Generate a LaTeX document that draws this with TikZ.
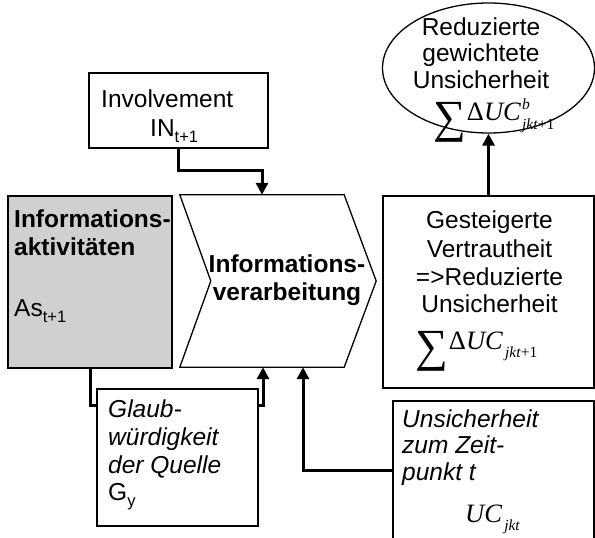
\documentclass[tikz,border=0pt]{standalone}
\usepackage{fontspec}
\setmainfont{Liberation Sans}
\newfontfamily\tms{Liberation Serif}
\usetikzlibrary{arrows.meta,shapes.geometric}

% formula pieces set in a Times-like face
\newcommand\sigmapart{\raisebox{-12pt}{\tms\fontsize{46}{46}\selectfont ∑}\kern1pt{\tms\fontsize{26.5}{26.5}\selectfont Δ\textit{UC}}}
\newcommand\lowidx[1]{\kern2pt\raisebox{-8pt}{\tms\fontsize{15.5}{15.5}\selectfont #1}}
\newcommand\subsans[1]{\raisebox{-6pt}{\fontsize{16.5}{16.5}\selectfont #1}}

\tikzset{
  box/.style={draw, line width=1.3pt, inner sep=0pt},
  lbl/.style={inner sep=0pt, font=\fontsize{24.5}{28}\selectfont},
  lblb/.style={lbl, font=\fontsize{24.5}{28}\selectfont\bfseries},
  lbli/.style={lbl, font=\fontsize{24.5}{28}\selectfont\itshape},
  conn/.style={line width=3pt},
  arr/.style={conn, -{Triangle[width=12pt,length=12pt]}}
}

\begin{document}
\begin{tikzpicture}[x=1pt,y=-1pt]
\clip (0,0) rectangle (595,538);

% boxes
\node[box, minimum width=179pt, minimum height=75pt] (inv) at (178.5,110.5) {};
\node[box, fill={rgb,255:red,208;green,208;blue,208}, minimum width=164pt, minimum height=172pt] (act) at (90,282) {};
\node[inner sep=0pt, minimum width=196pt, minimum height=172pt] (proc) at (278,281) {};
\draw[line width=1.3pt] (proc.north west) -- ([xshift=-32pt]proc.north east) -- (proc.east)
  -- ([xshift=-32pt]proc.south east) -- (proc.south west) -- ([xshift=31pt]proc.west) -- cycle;
\node[box, minimum width=161pt, minimum height=137pt] (glaub) at (177.5,457.5) {};
\node[box, minimum width=201pt, minimum height=159pt] (unc) at (493.5,480.5) {};
\node[box, minimum width=211pt, minimum height=192pt] (fam) at (488.5,292) {};
\node[box, ellipse, minimum width=212pt, minimum height=130pt] (red) at (488.5,68) {};

% texts
\node[lbl, anchor=base west] (t1) at (101,107) {Involvement};
\node[lbl, anchor=base west] (t2) at (150,136) {IN\subsans{t+1}};

\node[lblb, anchor=base west] (t3) at (14,227) {Informations-};
\node[lblb, anchor=base west] (t4) at (14,255) {aktivitäten};
\node[lbl, anchor=base west] (t5) at (14,316) {As\subsans{t+1}};

\node[lblb, anchor=base] (t6) at (287,272) {Informations-};
\node[lblb, anchor=base] (t7) at (287,300) {verarbeitung};

\node[lbl, anchor=base] (t8) at (489.5,228) {Gesteigerte};
\node[lbl, anchor=base] (t9) at (489.5,257) {Vertrautheit};
\node[lbl, anchor=base] (t10) at (489.5,285) {=>Reduzierte};
\node[lbl, anchor=base] (t11) at (489.5,312) {Unsicherheit};
\node[lbl, anchor=base west] (f1) at (415,349) {\sigmapart\lowidx{\textit{jkt}+1}};

\node[lbli, anchor=base west] (t12) at (108,417) {Glaub-};
\node[lbli, anchor=base west] (t13) at (108,445) {würdigkeit};
\node[lbli, anchor=base west] (t14) at (108,473) {der Quelle};
\node[lbl, anchor=base west] (t15) at (108,500) {G\subsans{y}};

\node[lbli, anchor=base west] (t16) at (402,427) {Unsicherheit};
\node[lbli, anchor=base west] (t17) at (402,453) {zum Zeit-};
\node[lbli, anchor=base west] (t18) at (402,480) {punkt t};
\node[lbl, anchor=base west] (f2) at (465,522) {{\tms\fontsize{26.5}{26.5}\selectfont\textit{UC}}\lowidx{\textit{jkt}}};

\node[lbl, anchor=base] (t19) at (481,35) {Reduzierte};
\node[lbl, anchor=base] (t20) at (481,61) {gewichtete};
\node[lbl, anchor=base] (t21) at (481,88) {Unsicherheit};
\node[lbl, anchor=base west] (f3) at (433,120) {\sigmapart\kern1pt\rlap{\raisebox{11pt}{\tms\fontsize{15.5}{15.5}\selectfont\textit{b}}}\raisebox{-9pt}{\tms\fontsize{15.5}{15.5}\selectfont\textit{jkt}+1}};

% connectors
\draw[arr] (inv.south) -- (inv.south |- 0,170) -| (262,0 |- proc.north);
\draw[conn] (act.south) |- (glaub.west |- 0,405);
\draw[arr] (glaub.east |- 0,405) -| (263,0 |- proc.south);
\draw[arr] (unc.west |- 0,470) -| (303,0 |- proc.south);
\draw[arr] (fam.north) -- (red.south);
\end{tikzpicture}
\end{document}
